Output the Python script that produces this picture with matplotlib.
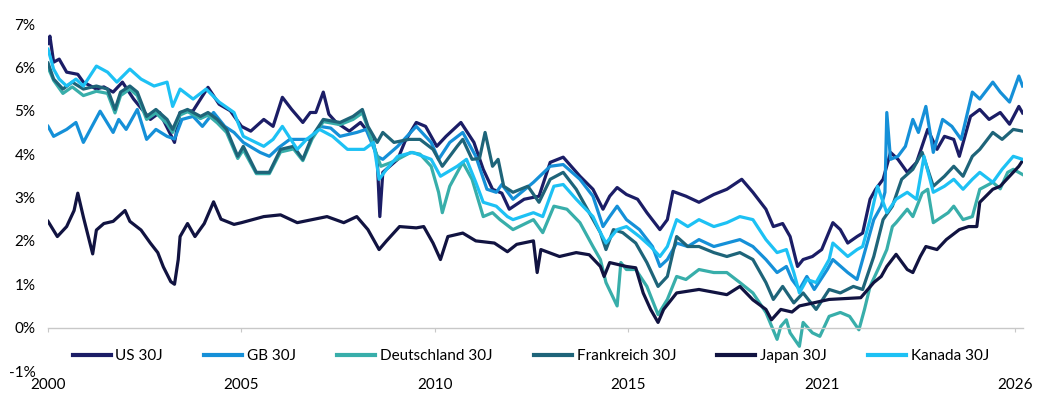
import matplotlib
matplotlib.use("Agg")
import matplotlib.pyplot as plt
import numpy as np

plt.rcParams['font.family'] = ['Lato', 'DejaVu Sans']

# --- data (decimal years, yield in %) ---
us_t = [2000.0, 2000.05, 2000.15, 2000.3, 2000.5, 2000.8, 2000.95, 2001.3, 2001.5, 2001.75,
        2002.0, 2002.3, 2002.75, 2003.0, 2003.4, 2003.55, 2003.9, 2004.3, 2004.6, 2004.9,
        2005.2, 2005.45, 2005.8, 2006.05, 2006.3, 2006.55, 2006.85, 2007.05, 2007.2, 2007.4,
        2007.55, 2007.75, 2008.1, 2008.4, 2008.7, 2008.85, 2008.92, 2009.0, 2009.4, 2009.6,
        2009.9, 2010.15, 2010.45, 2010.7, 2011.1, 2011.45, 2011.7, 2011.95, 2012.2, 2012.4,
        2012.8, 2013.2, 2013.5, 2013.85, 2014.3, 2014.65, 2014.92, 2015.1, 2015.3, 2015.55,
        2015.85, 2016.1, 2016.45, 2016.65, 2016.8, 2017.15, 2017.5, 2017.9, 2018.25, 2018.65,
        2018.95, 2019.3, 2019.5, 2019.75, 2019.95, 2020.15, 2020.3, 2020.55, 2020.8, 2021.1,
        2021.3, 2021.5, 2021.75, 2021.9, 2022.1, 2022.25, 2022.45, 2022.65, 2022.85, 2023.1,
        2023.35, 2023.65, 2023.9, 2024.1, 2024.35, 2024.5, 2024.8, 2025.05, 2025.3, 2025.6,
        2025.85, 2026.1, 2026.2]
us_v = [6.55, 6.72, 6.12, 6.19, 5.89, 5.84, 5.66, 5.5, 5.55, 5.43,
        5.66, 5.27, 4.8, 4.96, 4.27, 4.96, 5.0, 5.54, 5.15, 5.0,
        4.64, 4.53, 4.8, 4.64, 5.31, 5.03, 4.73, 4.96, 4.96, 5.43,
        4.92, 4.73, 4.53, 4.73, 4.41, 3.88, 2.56, 3.58, 3.88, 4.3,
        4.73, 4.64, 4.18, 4.41, 4.73, 4.27, 3.65, 3.19, 3.1, 2.73,
        2.96, 3.03, 3.81, 3.93, 3.49, 3.19, 2.73, 3.03, 3.23, 3.07,
        2.96, 2.65, 2.26, 2.49, 3.14, 3.03, 2.89, 3.07, 3.19, 3.42,
        3.12, 2.73, 2.33, 2.4, 2.1, 1.41, 1.57, 1.64, 1.8, 2.42,
        2.26, 1.95, 2.1, 2.18, 2.96, 3.19, 3.42, 4.04, 3.88, 3.58,
        3.81, 4.57, 4.11, 4.41, 4.34, 3.95, 4.87, 5.03, 4.8, 4.96,
        4.69, 5.1, 4.95]

gb_t = [2000.0, 2000.15, 2000.5, 2000.75, 2000.95, 2001.4, 2001.75, 2001.9, 2002.1, 2002.4,
        2002.65, 2002.9, 2003.2, 2003.4, 2003.6, 2003.9, 2004.15, 2004.45, 2004.75, 2005.0,
        2005.25, 2005.7, 2005.95, 2006.2, 2006.5, 2007.05, 2007.3, 2007.6, 2007.85, 2008.3,
        2008.55, 2008.85, 2009.0, 2009.4, 2009.9, 2010.3, 2010.5, 2010.8, 2011.15, 2011.5,
        2011.8, 2012.05, 2012.2, 2012.5, 2013.05, 2013.5, 2013.85, 2014.3, 2014.65, 2014.92,
        2015.1, 2015.3, 2015.55, 2015.9, 2016.25, 2016.45, 2016.65, 2016.9, 2017.2, 2017.5,
        2017.9, 2018.25, 2018.6, 2018.95, 2019.3, 2019.6, 2019.85, 2020.0, 2020.2, 2020.4,
        2020.6, 2020.95, 2021.1, 2021.5, 2021.75, 2021.9, 2022.2, 2022.4, 2022.5, 2022.55,
        2022.65, 2022.85, 2023.05, 2023.25, 2023.4, 2023.6, 2023.8, 2024.05, 2024.3, 2024.55,
        2024.85, 2025.05, 2025.4, 2025.6, 2025.85, 2026.1, 2026.2]
gb_v = [4.64, 4.41, 4.57, 4.73, 4.27, 4.99, 4.5, 4.8, 4.57, 5.03,
        4.34, 4.57, 4.41, 4.35, 4.8, 4.87, 4.64, 4.96, 4.64, 4.5,
        4.27, 4.04, 3.95, 4.15, 4.34, 4.34, 4.64, 4.6, 4.41, 4.5,
        4.57, 3.95, 3.88, 4.18, 4.64, 4.27, 3.88, 4.27, 4.5, 3.95,
        3.19, 3.12, 3.3, 2.96, 3.35, 3.72, 3.76, 3.42, 3.03, 2.33,
        2.56, 2.8, 2.49, 2.26, 1.87, 1.41, 1.57, 1.95, 1.87, 2.03,
        1.87, 1.95, 2.03, 1.87, 1.57, 1.27, 1.41, 1.11, 0.88, 1.18,
        0.88, 1.34, 1.57, 1.27, 1.11, 1.57, 2.49, 2.8, 3.12, 4.96,
        3.88, 3.95, 4.18, 4.8, 4.5, 5.1, 4.04, 4.8, 4.64, 4.34,
        5.43, 5.27, 5.66, 5.43, 5.2, 5.8, 5.57]

de_t = [2000.0, 2000.15, 2000.4, 2000.65, 2000.95, 2001.3, 2001.6, 2001.8, 2001.95, 2002.2,
        2002.4, 2002.65, 2002.9, 2003.2, 2003.35, 2003.55, 2003.75, 2004.1, 2004.3, 2004.55,
        2004.8, 2005.1, 2005.25, 2005.6, 2005.95, 2006.25, 2006.6, 2006.85, 2007.1, 2007.4,
        2007.85, 2008.2, 2008.45, 2008.6, 2008.85, 2008.95, 2009.2, 2009.4, 2009.75, 2010.0,
        2010.3, 2010.5, 2010.6, 2010.8, 2011.15, 2011.4, 2011.7, 2011.95, 2012.15, 2012.5,
        2013.05, 2013.3, 2013.6, 2013.95, 2014.3, 2014.65, 2014.85, 2015.0, 2015.3, 2015.4,
        2015.55, 2015.8, 2016.1, 2016.4, 2016.65, 2016.9, 2017.15, 2017.5, 2017.9, 2018.25,
        2018.6, 2018.95, 2019.3, 2019.6, 2019.7, 2019.85, 2019.95, 2020.2, 2020.3, 2020.55,
        2020.75, 2021.0, 2021.3, 2021.55, 2021.8, 2021.95, 2022.1, 2022.35, 2022.55, 2022.7,
        2022.8, 2023.1, 2023.25, 2023.5, 2023.65, 2023.8, 2024.2, 2024.35, 2024.6, 2024.85,
        2025.05, 2025.4, 2025.6, 2025.8, 2025.95, 2026.2]
de_v = [6.0, 5.7, 5.4, 5.55, 5.35, 5.45, 5.4, 4.95, 5.35, 5.5,
        5.35, 4.8, 4.95, 4.7, 4.5, 4.9, 4.98, 4.82, 4.9, 4.72,
        4.5, 3.9, 4.1, 3.55, 3.55, 4.05, 4.12, 3.85, 4.35, 4.75,
        4.68, 4.8, 4.95, 4.6, 3.95, 3.72, 3.8, 3.88, 4.04, 4.0,
        3.72, 3.12, 2.65, 3.26, 3.81, 3.42, 2.56, 2.65, 2.49, 2.26,
        2.49, 2.19, 2.8, 2.73, 2.42, 1.87, 1.57, 1.04, 0.5, 1.5,
        1.34, 1.34, 0.95, 0.3, 0.65, 1.18, 1.11, 1.34, 1.27, 1.27,
        1.04, 0.8, 0.35, -0.27, 0.03, 0.18, -0.12, -0.43, 0.12, -0.12,
        -0.2, 0.26, 0.35, 0.26, -0.05, 0.42, 0.95, 1.41, 1.8, 2.33,
        2.42, 2.73, 2.56, 3.1, 3.19, 2.42, 2.65, 2.8, 2.49, 2.56,
        3.19, 3.35, 3.2, 3.58, 3.65, 3.53]

fr_t = [2000.0, 2000.15, 2000.4, 2000.65, 2000.95, 2001.3, 2001.6, 2001.8, 2001.95, 2002.2,
        2002.4, 2002.65, 2002.9, 2003.2, 2003.35, 2003.55, 2003.75, 2004.1, 2004.3, 2004.55,
        2004.8, 2005.1, 2005.25, 2005.6, 2005.95, 2006.25, 2006.6, 2006.85, 2007.1, 2007.4,
        2007.85, 2008.2, 2008.45, 2008.6, 2008.85, 2009.0, 2009.3, 2009.7, 2010.0, 2010.35,
        2010.6, 2011.0, 2011.15, 2011.4, 2011.6, 2011.75, 2011.95, 2012.1, 2012.25, 2012.5,
        2012.9, 2013.2, 2013.5, 2013.85, 2014.2, 2014.55, 2014.85, 2015.0, 2015.2, 2015.45,
        2015.8, 2016.1, 2016.4, 2016.65, 2016.9, 2017.2, 2017.5, 2017.9, 2018.25, 2018.6,
        2018.95, 2019.3, 2019.5, 2019.75, 2020.05, 2020.3, 2020.65, 2021.0, 2021.3, 2021.65,
        2021.9, 2022.2, 2022.45, 2022.7, 2022.95, 2023.25, 2023.5, 2023.8, 2024.1, 2024.35,
        2024.6, 2024.85, 2025.05, 2025.4, 2025.65, 2025.95, 2026.2]
fr_v = [6.1, 5.73, 5.5, 5.66, 5.5, 5.57, 5.5, 5.03, 5.43, 5.57,
        5.43, 4.87, 5.03, 4.8, 4.57, 4.96, 5.03, 4.87, 4.96, 4.8,
        4.57, 3.95, 4.18, 3.58, 3.58, 4.11, 4.18, 3.88, 4.41, 4.8,
        4.73, 4.87, 5.03, 4.64, 4.27, 4.5, 4.27, 4.34, 4.34, 4.11,
        3.72, 4.18, 4.34, 3.88, 3.9, 4.5, 3.72, 3.88, 3.26, 3.12,
        3.26, 2.89, 3.42, 3.58, 3.19, 2.65, 2.19, 1.8, 2.26, 2.19,
        1.95, 1.5, 0.95, 1.18, 2.1, 1.87, 1.87, 1.73, 1.64, 1.73,
        1.57, 1.04, 0.65, 0.95, 0.57, 0.8, 0.42, 0.88, 0.8, 0.95,
        0.88, 1.64, 2.49, 2.8, 3.42, 3.65, 4.04, 3.26, 3.49, 3.72,
        3.49, 3.95, 4.11, 4.5, 4.34, 4.57, 4.53]

jp_t = [2000.0, 2000.25, 2000.5, 2000.7, 2000.8, 2000.95, 2001.2, 2001.3, 2001.5, 2001.75,
        2002.07, 2002.2, 2002.5, 2002.75, 2002.95, 2003.1, 2003.3, 2003.4, 2003.5, 2003.55,
        2003.75, 2003.95, 2004.2, 2004.45, 2004.65, 2005.0, 2005.2, 2005.8, 2006.25, 2006.7,
        2007.5, 2007.95, 2008.3, 2008.6, 2008.9, 2009.1, 2009.45, 2009.9, 2010.1, 2010.35,
        2010.55, 2010.75, 2011.15, 2011.5, 2012.0, 2012.35, 2012.6, 2013.05, 2013.15, 2013.25,
        2013.75, 2014.2, 2014.55, 2014.85, 2014.95, 2015.1, 2015.55, 2015.8, 2016.0, 2016.2,
        2016.4, 2016.55, 2016.9, 2017.5, 2018.25, 2018.6, 2018.95, 2019.3, 2019.45, 2019.7,
        2020.0, 2020.2, 2021.0, 2021.85, 2022.2, 2022.4, 2022.55, 2022.8, 2023.1, 2023.25,
        2023.45, 2023.6, 2023.9, 2024.15, 2024.5, 2024.75, 2024.97, 2025.05, 2025.4, 2025.6,
        2025.85, 2026.1, 2026.2]
jp_v = [2.45, 2.1, 2.33, 2.7, 3.1, 2.55, 1.7, 2.25, 2.4, 2.45,
        2.7, 2.45, 2.25, 1.95, 1.73, 1.4, 1.06, 1.0, 1.57, 2.1,
        2.4, 2.1, 2.4, 2.9, 2.5, 2.38, 2.42, 2.56, 2.6, 2.42,
        2.56, 2.42, 2.56, 2.26, 1.8, 2.0, 2.33, 2.3, 2.33, 1.95,
        1.57, 2.1, 2.18, 2.0, 1.95, 1.75, 1.92, 2.0, 1.27, 1.8,
        1.64, 1.73, 1.68, 1.41, 1.18, 1.5, 1.41, 1.38, 0.8, 0.42,
        0.12, 0.42, 0.8, 0.88, 0.76, 0.95, 0.64, 0.42, 0.18, 0.42,
        0.36, 0.5, 0.65, 0.69, 1.04, 1.18, 1.41, 1.69, 1.34, 1.27,
        1.64, 1.87, 1.8, 2.03, 2.26, 2.33, 2.33, 2.89, 3.19, 3.26,
        3.49, 3.72, 3.85]

ka_t = [2000.0, 2000.15, 2000.3, 2000.5, 2000.75, 2000.95, 2001.3, 2001.6, 2001.85, 2002.2,
        2002.5, 2002.85, 2003.2, 2003.35, 2003.55, 2003.9, 2004.25, 2004.6, 2005.0, 2005.25,
        2005.8, 2006.05, 2006.3, 2006.7, 2006.95, 2007.3, 2007.65, 2008.05, 2008.5, 2008.75,
        2008.9, 2009.1, 2009.4, 2009.8, 2010.3, 2010.55, 2011.0, 2011.25, 2011.5, 2011.7,
        2012.05, 2012.35, 2012.5, 2013.05, 2013.3, 2013.6, 2013.85, 2014.2, 2014.65, 2014.85,
        2015.0, 2015.3, 2015.55, 2015.9, 2016.2, 2016.45, 2016.65, 2016.9, 2017.2, 2017.5,
        2017.9, 2018.25, 2018.6, 2018.95, 2019.3, 2019.6, 2019.85, 2020.05, 2020.2, 2020.4,
        2020.65, 2021.0, 2021.1, 2021.5, 2021.75, 2021.9, 2022.1, 2022.3, 2022.55, 2022.8,
        2023.1, 2023.35, 2023.55, 2023.8, 2024.1, 2024.35, 2024.6, 2024.85, 2025.05, 2025.4,
        2025.65, 2025.95, 2026.2]
ka_v = [6.42, 5.96, 5.73, 5.57, 5.73, 5.57, 6.03, 5.89, 5.66, 5.96,
        5.73, 5.57, 5.66, 5.1, 5.5, 5.27, 5.5, 5.2, 4.96, 4.41,
        4.18, 4.34, 4.64, 4.11, 4.34, 4.57, 4.41, 4.11, 4.11, 4.27,
        3.42, 3.65, 3.95, 4.04, 3.88, 3.49, 3.72, 3.88, 3.35, 2.89,
        2.8, 2.56, 2.49, 2.65, 2.56, 3.26, 3.3, 2.96, 2.56, 2.19,
        1.95, 2.26, 2.33, 2.1, 1.87, 1.64, 1.87, 2.49, 2.33, 2.49,
        2.33, 2.42, 2.56, 2.49, 2.03, 1.73, 1.8, 1.27, 0.8, 1.11,
        1.04, 1.57, 1.95, 1.64, 1.8, 1.87, 2.49, 3.26, 2.65, 2.96,
        3.12, 2.96, 3.95, 3.12, 3.26, 3.42, 3.19, 3.42, 3.58, 3.35,
        3.65, 3.95, 3.88]

names = ['US 30J', 'GB 30J', 'Deutschland 30J', 'Frankreich 30J', 'Japan 30J', 'Kanada 30J']
colors = ['#1b1d66', '#1590d8', '#38aeaa', '#1e6479', '#111341', '#1dc1f4']
year_labels = ['2000', '2005', '2010', '2015', '2021', '2026']

series = [(us_t, us_v), (gb_t, gb_v), (de_t, de_v), (fr_t, fr_v), (jp_t, jp_v), (ka_t, ka_v)]

fig = plt.figure(figsize=(10.49, 4.11), dpi=100)
ax = fig.add_axes([0.0458, 0.0973, 0.929, 0.8443])

for (t, v), name, c in zip(series, names, colors):
    ax.plot(t, v, color=c, lw=2.3, label=name, solid_joinstyle='round')

ax.set_xlim(2000, 2026.2)
ax.set_ylim(-1, 7)

for s in ['top', 'right', 'left']:
    ax.spines[s].set_visible(False)
ax.spines['bottom'].set_position(('data', 0))
ax.spines['bottom'].set_color('#c8c8c8')
ax.spines['bottom'].set_linewidth(1.0)

ax.set_xticks(np.linspace(2000, 2026, 6))
ax.set_xticklabels(year_labels)
ax.tick_params(axis='x', direction='out', length=3, color='#c8c8c8', pad=33,
               labelsize=11, labelcolor='black')
ax.set_yticks(range(-1, 8))
ax.set_yticklabels([f'{i}%' for i in range(-1, 8)])
ax.tick_params(axis='y', length=0, pad=9, labelsize=11, labelcolor='black')

leg = ax.legend(loc='center', bbox_to_anchor=(0.506, 0.134), bbox_transform=fig.transFigure,
                ncol=6, frameon=False, fontsize=11, handlelength=2.5, handletextpad=0.3,
                columnspacing=2.7)
for h in leg.get_lines():
    h.set_linewidth(3)

fig.savefig('out.png', dpi=100)
